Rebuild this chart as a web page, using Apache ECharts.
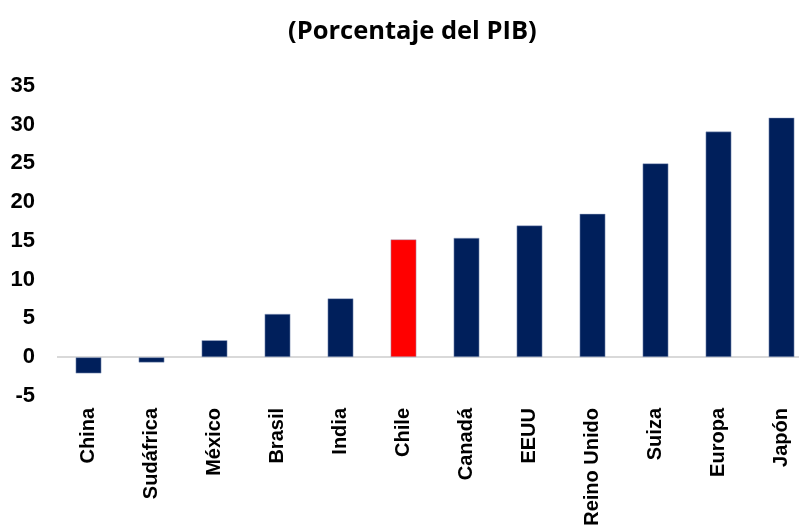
<!DOCTYPE html>
<html>
<head>
<meta charset="utf-8">
<script src="https://cdn.jsdelivr.net/npm/echarts@6/dist/echarts.min.js"></script>
<style>html,body{margin:0;padding:0;background:#fff}#c{width:799px;height:531px}</style>
</head>
<body>
<div id="c"></div>
<script>
const categories = ['China','Sudáfrica','México','Brasil','India','Chile','Canadá','EEUU','Reino Unido','Suiza','Europa','Japón'];
const values = [-2.1, -0.7, 2.2, 5.6, 7.6, 15.2, 15.4, 17.0, 18.5, 25.0, 29.1, 30.9];
const highlight = 'Chile';
const titleText = '(Porcentaje del PIB)';

const chart = echarts.init(document.getElementById('c'), null, {renderer:'canvas'});
chart.setOption({
  animation: false,
  backgroundColor: '#ffffff',
  title: {
    text: titleText, left: 283, top: 14,
    textStyle: {fontFamily: 'Open Sans', fontWeight: 'bold', fontSize: 25.5, color: '#000'}
  },
  grid: {left: 57, width: 756, top: 85.7, bottom: 135, outerBoundsMode: 'none', containLabel: false},
  xAxis: {
    type: 'category', data: categories,
    axisLine: {show: false, onZero: false},
    axisTick: {show: false},
    axisLabel: {rotate: 90, margin: 12, interval: 0,
      fontFamily: 'Liberation Sans', fontWeight: 'bold', fontSize: 20, color: '#000'}
  },
  yAxis: {
    type: 'value', min: -5, max: 35, interval: 5,
    axisLine: {show: false}, axisTick: {show: false}, splitLine: {show: false},
    axisLabel: {margin: 22, fontFamily: 'Liberation Sans', fontWeight: 'bold', fontSize: 22, color: '#000'}
  },
  series: [{
    type: 'bar', barWidth: 26,
    data: values.map((v, i) => ({value: v, itemStyle: {color: categories[i] === highlight ? '#ff0000' : '#001f5b'}})),
    itemStyle: {borderColor: 'rgba(160,175,205,0.6)', borderWidth: 0.8},
    markLine: {
      silent: true, symbol: 'none', label: {show: false},
      lineStyle: {color: '#d9d9d9', width: 2, type: 'solid'},
      data: [{yAxis: 0}],
      z: 1
    }
  }]
});
</script>
</body>
</html>
